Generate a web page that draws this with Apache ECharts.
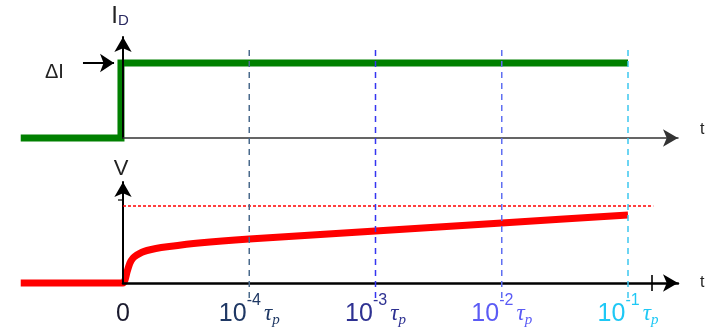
<!DOCTYPE html>
<html><head><meta charset="utf-8">
<script src="https://cdn.jsdelivr.net/npm/echarts@6/dist/echarts.min.js"></script>
<style>html,body{margin:0;padding:0;background:#fff}#c{width:716px;height:333px}</style>
</head><body><div id="c"></div>
<script>
// x in "decade units": 0 = t=0, 1..4 = 10^-4 .. 10^-1 tau_p
const tickValues = [0, 1, 2, 3, 4];
const tickExponents = ['', '-4', '-3', '-2', '-1'];
const currentStep = [[-0.81, 0], [-0.016, 0], [-0.016, 3], [4, 3]];
const voltageCurve = [[-0.81, 0], [0, 0], [0.016, 0.12], [0.032, 0.44], [0.055, 0.8], [0.08, 1.0], [0.11, 1.12], [0.15, 1.23], [0.19, 1.3], [0.26, 1.38], [0.35, 1.45], [0.6, 1.6], [1, 1.76], [2, 2.08], [3, 2.4], [4, 2.72]];
const voltageLimit = [[0, 3.08], [4.2, 3.08]];
const deltaIArrow = [[-0.317, 3], [-0.071, 3]];
const endTick = [[4.19, 0]];
const vAxisTick = [[-0.02, 3.32]];
const markerX = [1, 2, 3, 4];
const markerSpan = [-0.6, 9.5];
const markerColors = ['#4a6a8c', '#3535f0', '#5f6ff2', '#3cc8f0'];
const labelColors = ['#1a1a2e', '#1f3864', '#2e3192', '#5b5bf5', '#1ec8f5'];

// layout (pixels)
const PX = 126.25, X0 = 123;          // pixel per decade unit, pixel of t=0
const XMIN = -0.81, XMAX = 4.4, XAXMAX = 4.396;
const dataLeft = X0 + XMIN * PX, dataWidth = (XMAX - XMIN) * PX;

const chart = echarts.init(document.getElementById('c'));
const FS = 'Arial';

const rich = {};
labelColors.forEach((c, i) => {
  rich['b' + i] = {fontSize: 25, color: c, fontFamily: FS, padding: i === 0 ? [8.5, 0, 8.5, 0] : 0};
  rich['s' + i] = {fontSize: 16, color: c, fontFamily: FS, verticalAlign: 'top', padding: [0, 0, 26, 0]};
  rich['t' + i] = {fontSize: 23, color: c, fontFamily: 'Liberation Serif', fontStyle: 'italic', padding: [0, 0, 0, 3]};
  rich['p' + i] = {fontSize: 15, color: c, fontFamily: 'Liberation Serif', fontStyle: 'italic', padding: [12, 0, 0, 0]};
});

const axisArrow = (w, color) => ({show: true, symbol: ['none', 'arrow'], symbolSize: [13, 15], lineStyle: {color: color, width: w}});

const markerSeries = markerX.map((x, i) => ({
  type: 'line', xAxisIndex: 3, yAxisIndex: 3, clip: false, showSymbol: false, silent: true, z: 6,
  data: [[x, markerSpan[0]], [x, markerSpan[1]]],
  lineStyle: {color: markerColors[i], width: 1.5, type: [6, 5]}
}));

chart.setOption({
  animation: false,
  grid: [
    // axis grids
    {left: X0, width: XAXMAX * PX, top: 37, height: 101, outerBoundsMode: 'none'},
    {left: X0, width: XAXMAX * PX, top: 182, height: 101, outerBoundsMode: 'none'},
    // data grids
    {left: dataLeft, width: dataWidth, top: 38, height: 100, outerBoundsMode: 'none'},
    {left: dataLeft, width: dataWidth, top: 183, height: 100, outerBoundsMode: 'none'}
  ],
  xAxis: [
    {gridIndex: 0, type: 'value', min: 0, max: XAXMAX, z: 3,
      axisLine: axisArrow(1.5, '#333'), axisTick: {show: false}, axisLabel: {show: false}, splitLine: {show: false},
      name: 't', nameLocation: 'end', nameGap: 22, nameTextStyle: {fontSize: 16, color: '#222', fontFamily: FS, verticalAlign: 'bottom'}},
    {gridIndex: 1, type: 'value', min: 0, max: XAXMAX, interval: 1, z: 3,
      axisLine: axisArrow(2.5, '#000'), axisTick: {show: false}, splitLine: {show: false},
      axisLabel: {show: true, margin: 10, showMaxLabel: false, rich: rich,
        formatter: (v) => {
          const i = tickValues.indexOf(v);
          if (i < 0) return '';
          if (i === 0) return '{b0|0}';
          return `{b${i}|10}{s${i}|${tickExponents[i]}}{t${i}|τ}{p${i}|p}`;
        }},
      name: 't', nameLocation: 'end', nameGap: 22, nameTextStyle: {fontSize: 16, color: '#222', fontFamily: FS, verticalAlign: 'middle'}},
    {gridIndex: 2, type: 'value', min: XMIN, max: XMAX, show: false},
    {gridIndex: 3, type: 'value', min: XMIN, max: XMAX, show: false}
  ],
  yAxis: [
    {gridIndex: 0, type: 'value', min: 0, max: 4, z: 3,
      axisLine: axisArrow(2, '#000'), axisTick: {show: false}, axisLabel: {show: false}, splitLine: {show: false},
      name: '{i|I}{d|D}', nameLocation: 'end', nameGap: 9,
      nameTextStyle: {rich: {i: {fontSize: 24, color: '#222', fontFamily: FS}, d: {fontSize: 15, color: '#2a2a60', fontFamily: FS, verticalAlign: 'bottom'}}, padding: [0, 6, 0, 0]}},
    {gridIndex: 1, type: 'value', min: 0, max: 4, z: 3,
      axisLine: axisArrow(2, '#000'), axisTick: {show: false}, axisLabel: {show: false}, splitLine: {show: false},
      name: 'V', nameLocation: 'end', nameGap: 2,
      nameTextStyle: {fontSize: 22, color: '#222', fontFamily: FS, padding: [0, 4, 0, 0]}},
    {gridIndex: 2, type: 'value', min: 0, max: 4, show: false},
    {gridIndex: 3, type: 'value', min: 0, max: 4, show: false}
  ],
  graphic: [
    {type: 'text', left: 45, top: 62, style: {text: 'ΔI', fontSize: 20, fill: '#222', fontFamily: FS}}
  ],
  series: [
    {type: 'line', xAxisIndex: 2, yAxisIndex: 2, data: currentStep, clip: false, showSymbol: false, z: 2,
      lineStyle: {color: '#008000', width: 7, cap: 'butt', join: 'miter'}},
    {type: 'lines', coordinateSystem: 'cartesian2d', xAxisIndex: 2, yAxisIndex: 2, z: 8, clip: false,
      symbol: ['none', 'arrow'], symbolSize: [11, 14],
      lineStyle: {color: '#000', width: 2, opacity: 1, curveness: 0},
      data: [{coords: deltaIArrow}]},
    {type: 'line', xAxisIndex: 3, yAxisIndex: 3, data: voltageCurve, clip: false, showSymbol: false,
      smooth: 0.25, z: 2,
      lineStyle: {color: '#ff0000', width: 7, join: 'round'}},
    {type: 'line', xAxisIndex: 3, yAxisIndex: 3, data: voltageLimit, clip: false, showSymbol: false, z: 4,
      lineStyle: {color: '#ff0000', width: 1.5, type: [3, 2]}},
    {type: 'scatter', xAxisIndex: 3, yAxisIndex: 3, data: endTick, symbol: 'rect', symbolSize: [2, 16], itemStyle: {color: '#000'}, z: 5, silent: true},
    {type: 'scatter', xAxisIndex: 3, yAxisIndex: 3, data: vAxisTick, symbol: 'rect', symbolSize: [5, 1.5], itemStyle: {color: '#000'}, z: 5, silent: true},
    ...markerSeries
  ]
});
</script></body></html>
